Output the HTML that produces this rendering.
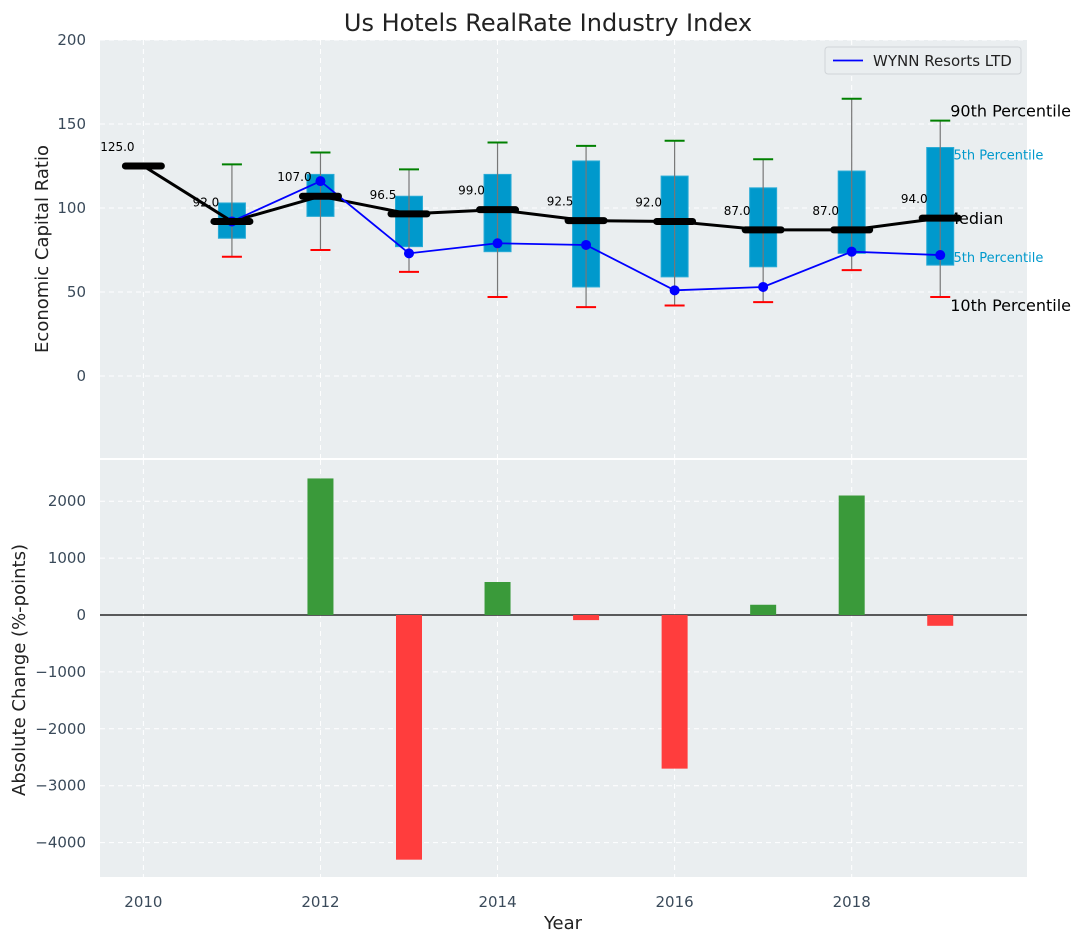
<!DOCTYPE html>
<html><head><meta charset="utf-8"><style>
body{margin:0;background:#fff;font-family:"Liberation Sans","DejaVu Sans",sans-serif}
svg text{font-family:"DejaVu Sans","Liberation Sans",sans-serif}
</style></head><body>
<svg id="chart" width="1085" height="942" xmlns="http://www.w3.org/2000/svg">
<rect width="1085" height="942" fill="#fff"/>
<text x="548" y="31" font-size="24" text-anchor="middle" fill="#222">Us Hotels RealRate Industry Index</text>
<g id="topPanel"></g><g id="botPanel"></g>
</svg>
<script>
const years=[2010,2011,2012,2013,2014,2015,2016,2017,2018,2019];
const medians=[125,92,107,96.5,99,92.5,92,87,87,94];
const q1=[null,82,95,77,74,53,59,65,73,66];
const q3=[null,103,120,107,120,128,119,112,122,136];
const p90=[null,126,133,123,139,137,140,129,165,152];
const p10=[null,71,75,62,47,41,42,44,63,47];
const wynn=[null,92,116,73,79,78,51,53,74,72];
const changes=[0,0,2400,-4300,580,-90,-2700,180,2100,-190];
const topTicks=[0,50,100,150,200];
const botTicks=[-4000,-3000,-2000,-1000,0,1000,2000];
const xTicks=[2010,2012,2014,2016,2018];

const NS="http://www.w3.org/2000/svg";
const L=100,R=1027;
const x=v=>L+(v-2009.51)*(R-L)/(2019.98-2009.51);
const yT=v=>376-v*1.68;
const yB=v=>615-v*0.0569;
function el(parent,tag,attrs,txt){const e=document.createElementNS(NS,tag);for(const k in attrs)e.setAttribute(k,attrs[k]);if(txt!=null)e.textContent=txt;parent.appendChild(e);return e;}
const topG=document.getElementById('topPanel'),botG=document.getElementById('botPanel');

let bg=el(topG,'rect',{x:L,y:40,width:R-L,height:418,fill:'#eaeef0'});


let bg2=el(botG,'rect',{x:L,y:460,width:R-L,height:417,fill:'#eaeef0'});



xTicks.forEach(t=>{
  el(topG,'line',{x1:x(t),x2:x(t),y1:40,y2:458,stroke:'#fff','stroke-dasharray':'5,4'});
  el(botG,'line',{x1:x(t),x2:x(t),y1:460,y2:877,stroke:'#fff','stroke-dasharray':'5,4'});
  let tl=el(botG,'text',{x:x(t),y:907,'font-size':15,'text-anchor':'middle',fill:'#3a4a5a'},t);
  
  
});
topTicks.forEach(t=>{
  el(topG,'line',{x1:L,x2:R,y1:yT(t),y2:yT(t),stroke:'#fff','stroke-dasharray':'5,4'});
  let tl=el(topG,'text',{x:86,y:yT(t)+5,'font-size':15,'text-anchor':'end',fill:'#3a4a5a'},t);
  
  
});
botTicks.forEach(t=>{
  el(botG,'line',{x1:L,x2:R,y1:yB(t),y2:yB(t),stroke:'#fff','stroke-dasharray':'5,4'});
  let tl=el(botG,'text',{x:86,y:yB(t)+5,'font-size':15,'text-anchor':'end',fill:'#3a4a5a'},t===0?'0':(t<0?'\u2212'+(-t):t));
  
  
});
let ya=el(topG,'text',{x:48,y:249,'font-size':18,'text-anchor':'middle',fill:'#222',transform:'rotate(-90 48 249)'},'Economic Capital Ratio');


let yb=el(botG,'text',{x:25,y:670,'font-size':18,'text-anchor':'middle',fill:'#222',transform:'rotate(-90 25 670)'},'Absolute Change (%-points)');


let xa=el(botG,'text',{x:563,y:929,'font-size':18,'text-anchor':'middle',fill:'#222'},'Year');



const lx=x(2019)+5;
[['90th Percentile',yT(p90[9])-4,16,'#000',lx+5],['75th Percentile',yT(q3[9])+12,13,'#0099cc',lx],['Median',yT(medians[9])+6,16,'#000',lx],['25th Percentile',yT(q1[9])-3,13,'#0099cc',lx],['10th Percentile',yT(p10[9])+14,16,'#000',lx+5]].forEach(a=>{
  let t=el(topG,'text',{x:a[4],y:a[1],'font-size':a[2],fill:a[3]},a[0]);
  
  
});

years.forEach((yr,i)=>{
  if(q1[i]==null)return;
  const cx=x(yr);
  let b=el(topG,'rect',{x:cx-13.5,y:yT(q3[i]),width:27,height:yT(q1[i])-yT(q3[i]),fill:'#0099cc',stroke:'#29abd6','stroke-width':1});
  
  
  el(topG,'line',{x1:cx,x2:cx,y1:yT(p90[i]),y2:yT(p10[i]),stroke:'#777','stroke-width':1.2});
  let c1=el(topG,'line',{x1:cx-10,x2:cx+10,y1:yT(p90[i]),y2:yT(p90[i]),stroke:'green','stroke-width':2});
  
  
  let c2=el(topG,'line',{x1:cx-10,x2:cx+10,y1:yT(p10[i]),y2:yT(p10[i]),stroke:'red','stroke-width':2});
  
  
});
let mp=years.map((yr,i)=>x(yr)+','+yT(medians[i])).join(' ');
let ml=el(topG,'polyline',{points:mp,fill:'none',stroke:'#000','stroke-width':3});


let wp=years.map((yr,i)=>wynn[i]==null?null:x(yr)+','+yT(wynn[i])).filter(p=>p).join(' ');
let wl=el(topG,'polyline',{points:wp,fill:'none',stroke:'blue','stroke-width':1.8});


years.forEach((yr,i)=>{
  if(wynn[i]!=null){
    let d=el(topG,'circle',{cx:x(yr),cy:yT(wynn[i]),r:5,fill:'blue'});
    
    
  }
  let m=el(topG,'line',{x1:x(yr)-18,x2:x(yr)+18,y1:yT(medians[i]),y2:yT(medians[i]),stroke:'#000','stroke-width':7,'stroke-linecap':'round'});
  
  
  let t=el(topG,'text',{x:x(yr)-26,y:yT(medians[i])-15,'font-size':12,'text-anchor':'middle',fill:'#000'},medians[i].toFixed(1));
  
  
});
let lg=el(topG,'g',{});


el(lg,'rect',{x:825,y:47,width:196,height:27,rx:3,fill:'#eaeef0',stroke:'#d0d4d8'});
el(lg,'line',{x1:833,x2:863,y1:60.5,y2:60.5,stroke:'blue','stroke-width':1.8});
el(lg,'text',{x:873,y:66,'font-size':15,fill:'#222'},'WYNN Resorts LTD');
el(botG,'line',{x1:L,x2:R,y1:yB(0),y2:yB(0),stroke:'#000','stroke-width':1.2});
years.forEach((yr,i)=>{
  const v=changes[i]; if(v===0)return;
  let b=el(botG,'rect',{x:x(yr)-13,y:Math.min(yB(v),yB(0)),width:26,height:Math.abs(yB(v)-yB(0)),fill:v>0?'#3a9a3a':'#ff3d3d'});
  
  
});
</script>
</body></html>
